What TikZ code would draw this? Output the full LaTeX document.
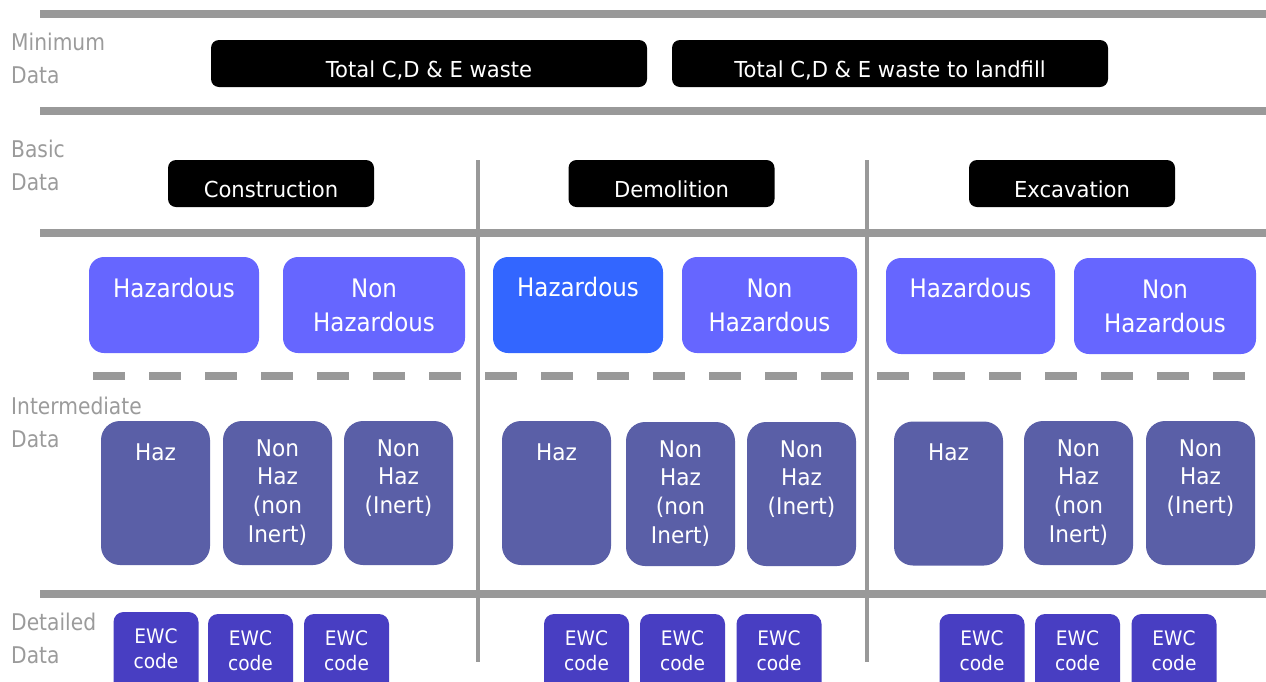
\documentclass[tikz,border=0pt]{standalone}
\usepackage{fontspec}
\setmainfont{DejaVu Sans}
\newfontfamily\lblfont{DejaVu Sans}[FakeStretch=0.88]
\newfontfamily\blkfont{DejaVu Sans}[FakeStretch=0.96]
\newfontfamily\hzfont{DejaVu Sans}[FakeStretch=0.90]
\newfontfamily\imfont{DejaVu Sans}[FakeStretch=0.94]
\newfontfamily\ewcfont{DejaVu Sans}[FakeStretch=0.93]
\definecolor{lgray}{HTML}{999999}
\definecolor{tgray}{HTML}{9B9B9B}
\definecolor{hzc}{HTML}{6666FF}
\definecolor{hzdc}{HTML}{3366FF}
\definecolor{imc}{HTML}{5A5FA7}
\definecolor{ewcc}{HTML}{483EC2}
\newcommand\bxt[4]{\parbox[c][#2][t]{#1}{\centering\rule{0pt}{#3}#4}}
\tikzset{
  sep/.style={draw=lgray, line width=7.5pt},
  vsep/.style={draw=lgray, line width=3.5pt},
  dsep/.style={draw=lgray, line width=8pt, dash pattern=on 32pt off 24pt},
  lbl/.style={text=tgray, inner sep=0pt, anchor=base west, font=\lblfont\fontsize{23pt}{33.5pt}\selectfont},
  blk/.style={fill=black, text=white, rounded corners=8pt, inner sep=0pt, font=\blkfont\fontsize{22pt}{26pt}\selectfont},
  hzb/.style={fill=hzc, text=white, rounded corners=15pt, inner sep=0pt, font=\hzfont\fontsize{25.5pt}{34pt}\selectfont},
  hzd/.style={hzb, fill=hzdc},
  imb/.style={fill=imc, text=white, rounded corners=19pt, inner sep=0pt, font=\imfont\fontsize{23pt}{28.7pt}\selectfont},
  ewc/.style={fill=ewcc, text=white, rounded corners=10pt, inner sep=0pt, font=\ewcfont\fontsize{20pt}{25pt}\selectfont},
}
\begin{document}
\begin{tikzpicture}[x=1pt,y=-1pt]
\useasboundingbox (0,0) rectangle (1266,681);
\clip (0,0) rectangle (1266,681);
% separators
\draw[sep] (40,14) -- (1266,14);
\draw[sep] (40,111) -- (1266,111);
\draw[sep] (40,233) -- (1266,233);
\draw[sep] (40,594) -- (1266,594);
\draw[vsep] (478,160) -- (478,662);
\draw[vsep] (867,160) -- (867,662);
\draw[dsep] (93,376) -- (461,376);
\draw[dsep] (485,376) -- (853,376);
\draw[dsep] (877,376) -- (1245,376);
% left labels
\node[lbl] (lmin) at (11,50) {\parbox[t]{200pt}{Minimum\\Data}};
\node[lbl] (lbas) at (11,157) {\parbox[t]{200pt}{Basic\\Data}};
\node[lbl] (lint) at (11,414) {\parbox[t]{200pt}{Intermediate\\Data}};
\node[lbl] (ldet) at (11,630) {\parbox[t]{200pt}{Detailed\\Data}};
% minimum data
\node[blk] (tot) at (429,63.5) {\bxt{436pt}{47pt}{37pt}{Total C,D \& E waste}};
\node[blk] (land) at (890,63.5) {\bxt{436pt}{47pt}{37pt}{Total C,D \& E waste to landfill}};
% basic data
\node[blk] (con) at (271,183.5) {\bxt{206pt}{47pt}{37pt}{Construction}};
\node[blk] (dem) at (671.5,183.5) {\bxt{206pt}{47pt}{37pt}{Demolition}};
\node[blk] (exc) at (1072,183.5) {\bxt{206pt}{47pt}{37pt}{Excavation}};
% hazardous row
\node[hzb] (chz) at (174,305) {\bxt{170pt}{96pt}{40pt}{Hazardous}};
\node[hzb] (cnh) at (374,305) {\bxt{182pt}{96pt}{40pt}{Non\\Hazardous}};
\node[hzd] (dhz) at (578,305) {\bxt{170pt}{96pt}{39pt}{Hazardous}};
\node[hzb] (dnh) at (769.5,305) {\bxt{175pt}{96pt}{40pt}{Non\\Hazardous}};
\node[hzb] (ehz) at (970.5,306) {\bxt{169pt}{96pt}{39pt}{Hazardous}};
\node[hzb] (enh) at (1165,306) {\bxt{182pt}{96pt}{40pt}{Non\\Hazardous}};
% intermediate row
\node[imb] (cih) at (155.5,493) {\bxt{109pt}{144pt}{39pt}{Haz}};
\node[imb] (cin) at (277.5,493) {\bxt{109pt}{144pt}{35pt}{Non\\Haz\\(non\\Inert)}};
\node[imb] (cii) at (398.5,493) {\bxt{109pt}{144pt}{35pt}{Non\\Haz\\(Inert)}};
\node[imb] (dih) at (556.5,493) {\bxt{109pt}{144pt}{39pt}{Haz}};
\node[imb] (din) at (680.5,494) {\bxt{109pt}{144pt}{35pt}{Non\\Haz\\(non\\Inert)}};
\node[imb] (dii) at (801.5,494) {\bxt{109pt}{144pt}{35pt}{Non\\Haz\\(Inert)}};
\node[imb] (eih) at (948.5,493.5) {\bxt{109pt}{144pt}{39pt}{Haz}};
\node[imb] (ein) at (1078.5,493) {\bxt{109pt}{144pt}{35pt}{Non\\Haz\\(non\\Inert)}};
\node[imb] (eii) at (1200.5,493) {\bxt{109pt}{144pt}{35pt}{Non\\Haz\\(Inert)}};
% detailed row
\node[ewc] (ce1) at (156,657) {\bxt{85pt}{90pt}{31pt}{EWC\\code}};
\node[ewc] (ce2) at (250.5,659) {\bxt{85pt}{90pt}{31pt}{EWC\\code}};
\node[ewc] (ce3) at (346.5,659) {\bxt{85pt}{90pt}{31pt}{EWC\\code}};
\node[ewc] (de1) at (586.5,659) {\bxt{85pt}{90pt}{31pt}{EWC\\code}};
\node[ewc] (de2) at (682.5,659) {\bxt{85pt}{90pt}{31pt}{EWC\\code}};
\node[ewc] (de3) at (779,659) {\bxt{85pt}{90pt}{31pt}{EWC\\code}};
\node[ewc] (ee1) at (982,659) {\bxt{85pt}{90pt}{31pt}{EWC\\code}};
\node[ewc] (ee2) at (1077.5,659) {\bxt{85pt}{90pt}{31pt}{EWC\\code}};
\node[ewc] (ee3) at (1174,659) {\bxt{85pt}{90pt}{31pt}{EWC\\code}};
\end{tikzpicture}
\end{document}
